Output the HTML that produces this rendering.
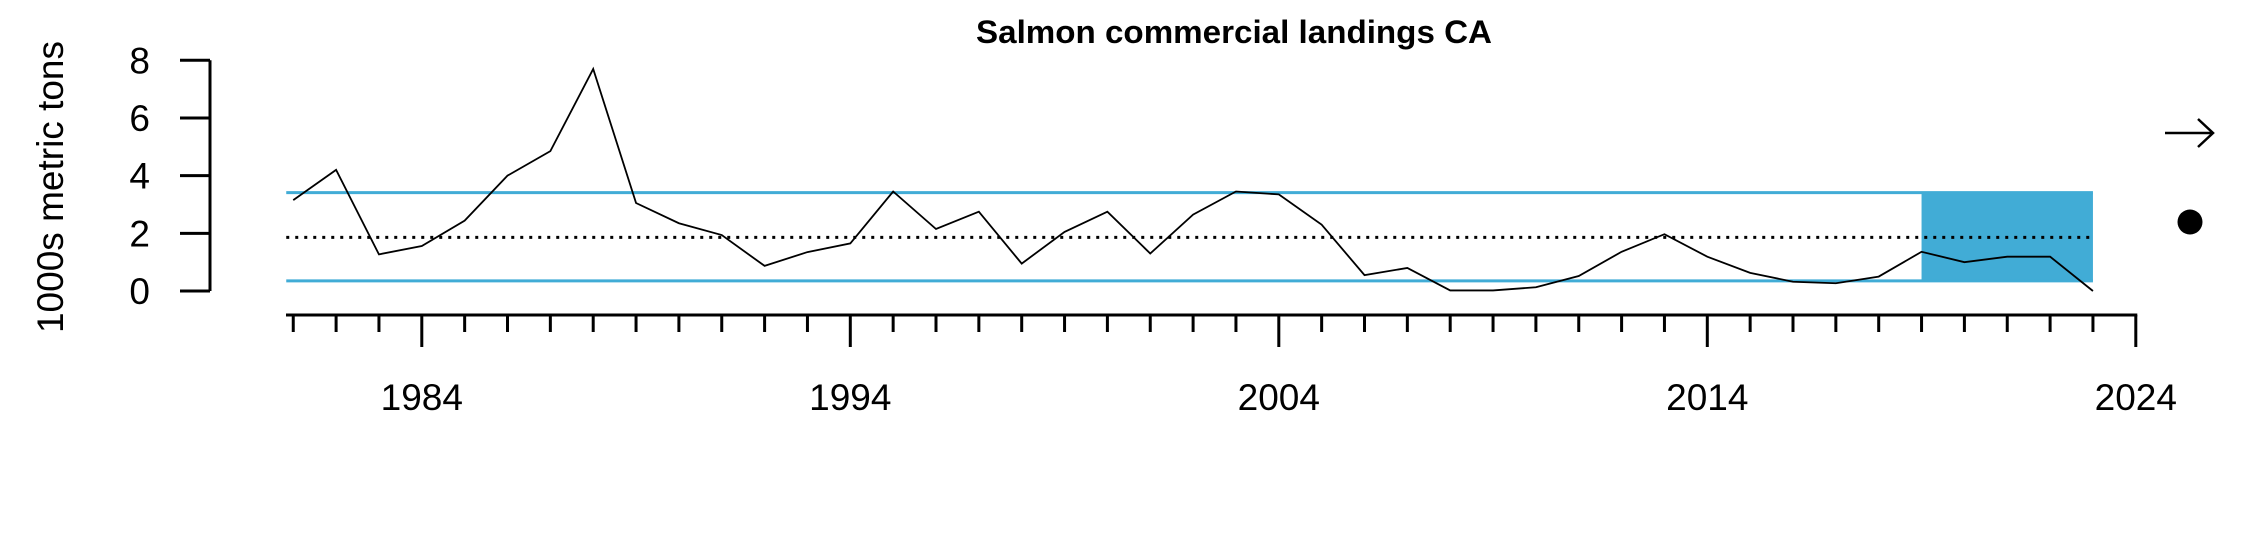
<!DOCTYPE html>
<html><head><meta charset="utf-8"><style>
html,body{margin:0;padding:0;background:#fff;}
svg{display:block;font-family:"Liberation Sans",sans-serif;}
</style></head><body>
<svg id="chart" width="2250" height="540" viewBox="0 0 2250 540" xmlns="http://www.w3.org/2000/svg">
<text x="1234" y="43" text-anchor="middle" font-size="32" font-weight="bold" textLength="516" lengthAdjust="spacingAndGlyphs">Salmon commercial landings CA</text>
<text transform="translate(63,187) rotate(-90)" text-anchor="middle" font-size="37">1000s metric tons</text>
<g id="plot"></g>
</svg>
<script>
const years = [1981,1982,1983,1984,1985,1986,1987,1988,1989,1990,1991,1992,1993,1994,1995,1996,1997,1998,1999,2000,2001,2002,2003,2004,2005,2006,2007,2008,2009,2010,2011,2012,2013,2014,2015,2016,2017,2018,2019,2020,2021,2022,2023];
const landings = [3.15,4.2,1.27,1.56,2.44,4.0,4.85,7.7,3.05,2.35,1.94,0.87,1.35,1.65,3.45,2.15,2.75,0.95,2.05,2.75,1.3,2.65,3.45,3.35,2.3,0.55,0.8,0.02,0.02,0.13,0.52,1.36,1.97,1.19,0.63,0.32,0.27,0.5,1.36,1.0,1.19,1.19,0.0];
const meanValue = [1.86];
const upperBand = [3.41];
const lowerBand = [0.35];
const recentStart = [2019];
const yTicks = [0,2,4,6,8];
const xMajorTicks = [1984,1994,2004,2014,2024];

const NS = "http://www.w3.org/2000/svg";
const g = document.getElementById('plot');
const xs = yr => 421.8 + (yr - 1984) * 42.85;
const ys = v => 291 - v * 28.84;
function mk(tag, attrs){const e=document.createElementNS(NS,tag);for(const k in attrs)e.setAttribute(k,attrs[k]);g.appendChild(e);return e;}

const x0 = xs(years[0]) - 7, x1 = xs(years[years.length-1]);
const rs = xs(recentStart[0]);
let e;
e = mk('rect',{x:rs,y:ys(upperBand[0]),width:x1-rs,height:ys(lowerBand[0])-ys(upperBand[0]),fill:'#41acd6'});


e = mk('line',{x1:x0,x2:x1,y1:ys(upperBand[0]),y2:ys(upperBand[0]),stroke:'#41acd6','stroke-width':3});


e = mk('line',{x1:x0,x2:x1,y1:ys(lowerBand[0]),y2:ys(lowerBand[0]),stroke:'#41acd6','stroke-width':3});


e = mk('line',{x1:x0,x2:x1,y1:ys(meanValue[0]),y2:ys(meanValue[0]),stroke:'#000','stroke-width':3,'stroke-dasharray':'3 6'});


e = mk('polyline',{points:years.map((y,i)=>xs(y)+','+ys(landings[i])).join(' '),fill:'none',stroke:'#000','stroke-width':1.8});



// y axis
e = mk('line',{x1:210,x2:210,y1:ys(8),y2:ys(0),stroke:'#000','stroke-width':3});


yTicks.forEach(t=>{
  let l = mk('line',{x1:180,x2:210,y1:ys(t),y2:ys(t),stroke:'#000','stroke-width':3});
  
  
  let tx = mk('text',{x:150,y:ys(t)+13,'text-anchor':'end','font-size':37});
  tx.textContent = t;
  
  
});
// x axis
e = mk('line',{x1:286,x2:xs(2024)+1.5,y1:315,y2:315,stroke:'#000','stroke-width':3});


for(let y=years[0]; y<=2024; y++){
  const major = xMajorTicks.includes(y);
  let l = mk('line',{x1:xs(y),x2:xs(y),y1:315,y2:major?347:332,stroke:'#000','stroke-width':3});
  
  
}
xMajorTicks.forEach(t=>{
  let tx = mk('text',{x:xs(t),y:410,'text-anchor':'middle','font-size':37});
  tx.textContent = t;
  
  
});
// trend indicators
e = mk('path',{d:'M2165 133 L2213 133 M2198 119 L2213 133 L2198 147',fill:'none',stroke:'#000','stroke-width':2.5});


e = mk('ellipse',{cx:2190,cy:222,rx:12.5,ry:12.5,fill:'#000'});


</script>
</body></html>
